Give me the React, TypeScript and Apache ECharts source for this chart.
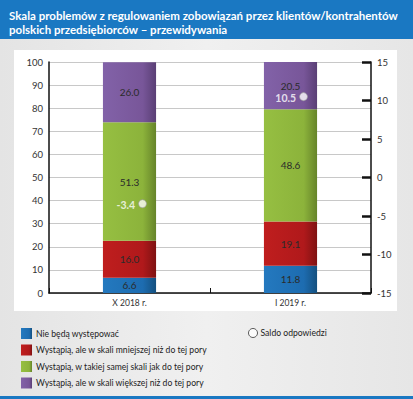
import React, { useEffect, useRef } from "react";
import * as echarts from "echarts";

const categories = ["X 2018 r.", "I 2019 r."];
const nieBeda = [6.6, 11.8];
const mniejsza = [16.0, 19.1];
const taka = [51.3, 48.6];
const wieksza = [26.0, 20.5];
const saldo = [-3.4, 10.5];

const seriesNames = [
  "Nie będą występować",
  "Wystąpią, ale w skali mniejszej niż do tej pory",
  "Wystąpią, w takiej samej skali jak do tej pory",
  "Wystąpią, ale w skali większej niż do tej pory",
];
const saldoName = "Saldo odpowiedzi";

const colors = [
  ["#2479bf", "#1d6cb0", "#14507f"],
  ["#bf1e1e", "#b0191b", "#7f1212"],
  ["#96bf42", "#8cb33b", "#66842a"],
  ["#8262a8", "#785699", "#5a3f75"],
];

const FONT = "Lato, 'Open Sans', sans-serif";

function grad(c: string[]) {
  return new echarts.graphic.LinearGradient(0, 0, 1, 0, [
    { offset: 0, color: c[0] },
    { offset: 0.75, color: c[1] },
    { offset: 1, color: c[2] },
  ]);
}

export default function App() {
  const ref = useRef<HTMLDivElement>(null);
  useEffect(() => {
    if (!ref.current) return;
    const chart = echarts.init(ref.current, undefined, { renderer: "svg" });
    const datasets = [nieBeda, mniejsza, taka, wieksza];
    const barSeries = datasets.map((d, i) => ({
      name: seriesNames[i],
      type: "bar",
      stack: "total",
      barWidth: "33%",
      data: d,
      itemStyle: { color: grad(colors[i]) },
      label: {
        show: true,
        position: "inside",
        formatter: (p: any) => Number(p.value).toFixed(1),
        color: "#2b2b2b",
        fontFamily: FONT,
        fontSize: 10,
      },
    }));
    chart.setOption({
      animation: false,
      backgroundColor: "transparent",
      graphic: [
        {
          type: "rect",
          z: -10,
          shape: { x: 0, y: 0, width: 413, height: 399 },
          style: {
            fill: new echarts.graphic.LinearGradient(0, 0, 1, 0, [
              { offset: 0, color: "#e4e4e4" },
              { offset: 0.5, color: "#f0f0f0" },
              { offset: 1, color: "#e6e6e6" },
            ]),
          },
        },
        {
          type: "rect",
          z: -9,
          shape: { x: 0, y: 0, width: 413, height: 39 },
          style: { fill: "#1a78c2" },
        },
        {
          type: "rect",
          z: -9,
          shape: { x: 0, y: 396, width: 413, height: 3 },
          style: { fill: "#1a78c2" },
        },
        {
          type: "rect",
          z: -9,
          shape: { x: 14, y: 50, width: 383, height: 261 },
          style: { fill: "#ffffff" },
        },
        {
          type: "text",
          x: 9,
          y: 8,
          style: {
            text: "Skala problemów z regulowaniem zobowiązań przez klientów/kontrahentów\npolskich przedsiębiorców – przewidywania",
            fill: "#ffffff",
            font: `bold 11.5px ${FONT}`,
            lineHeight: 14,
          },
        },
      ],
      legend: [
        {
          data: seriesNames,
          orient: "vertical",
          left: 16,
          top: 323,
          itemWidth: 11,
          itemHeight: 11,
          itemGap: 5.5,
          icon: "rect",
          textStyle: { fontFamily: FONT, fontSize: 8.6, color: "#222", padding: [0, 0, 0, -1] },
        },
        {
          data: [{ name: saldoName, icon: "circle", itemStyle: { color: "#fff", borderColor: "#333", borderWidth: 1 } }],
          orient: "vertical",
          left: 243,
          top: 323,
          itemWidth: 9,
          itemHeight: 9,
          textStyle: { fontFamily: FONT, fontSize: 8.6, color: "#222", padding: [0, 0, 0, -2] },
        },
      ],
      grid: { left: 49, right: 42, top: 62, bottom: 106 },
      xAxis: {
        type: "category",
        data: categories,
        axisLine: { lineStyle: { color: "#111", width: 1.5 } },
        axisTick: { show: true, inside: true, length: 5, lineStyle: { color: "#111", width: 1 } },
        axisLabel: { fontFamily: FONT, fontSize: 8.5, color: "#333", margin: 5 },
      },
      yAxis: [
        {
          type: "value",
          min: 0,
          max: 100,
          interval: 10,
          axisLine: { show: true, lineStyle: { color: "#111", width: 1.5 } },
          axisTick: { show: false },
          axisLabel: { fontFamily: FONT, fontSize: 9.5, color: "#333", margin: 6 },
          splitLine: { lineStyle: { color: "#c8c8c8", width: 1 } },
        },
        {
          type: "value",
          min: -15,
          max: 15,
          interval: 5,
          position: "right",
          axisLine: { show: true, lineStyle: { color: "#111", width: 1.5 } },
          axisTick: { show: true, inside: true, length: 9, lineStyle: { color: "#111", width: 2.5 } },
          axisLabel: { fontFamily: FONT, fontSize: 9.5, color: "#333", margin: 6 },
          splitLine: { show: false },
        },
      ],
      series: [
        ...barSeries,
        {
          name: saldoName,
          type: "scatter",
          yAxisIndex: 1,
          data: saldo,
          symbol: "circle",
          symbolSize: 8,
          symbolOffset: [13, 0],
          z: 10,
          itemStyle: { color: "#ffffff", borderColor: "#999", borderWidth: 0.8 },
          label: {
            show: true,
            position: "left",
            distance: 3,
            offset: [0, 1.5],
            formatter: (p: any) => Number(p.value).toFixed(1),
            color: "#ffffff",
            fontWeight: "bold",
            fontFamily: FONT,
            fontSize: 10.5,
          },
        },
      ],
    });
    return () => chart.dispose();
  }, []);
  return (
    <div
      ref={ref}
      style={{ position: "absolute", left: 0, top: 0, width: 413, height: 399 }}
    />
  );
}
